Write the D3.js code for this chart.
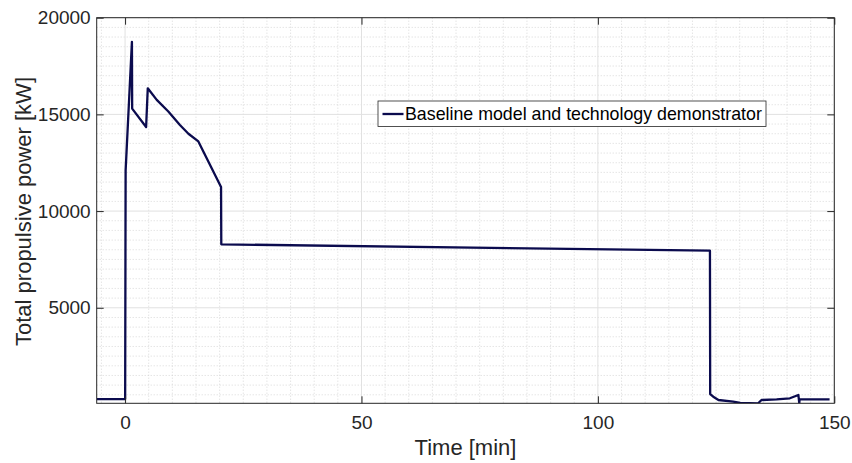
<!DOCTYPE html>
<html>
<head>
<meta charset="utf-8">
<script src="https://cdn.jsdelivr.net/npm/d3@7"></script>
<style>
  html, body { margin: 0; padding: 0; background: #fff; }
  svg { display: block; font-family: "Liberation Sans", Arial, Helvetica, sans-serif; }
</style>
</head>
<body>
<svg id="chart" width="852" height="463"></svg>
<script>
// Propulsive power profile over one voyage
const timeMin = [-6, 0.02, 0.12, 1.45, 1.5, 4.45, 4.8, 6.7, 9.15, 11.6, 13.4, 15.5, 20.3, 20.35,
                 123.7, 123.75, 124.4, 125.5, 128.6, 130.1, 133.9, 134.6, 137.8, 140.6, 142.4, 142.6, 142.65, 149];
const powerKW = [280, 280, 12100, 18750, 15300, 14350, 16350, 15750, 15150, 14450, 14000, 13600, 11250, 8280,
                 7950, 540, 400, 230, 145, 80, 60, 230, 265, 320, 490, 60, 265, 265];

const seriesName = "Baseline model and technology demonstrator";
const xTicks = [0, 50, 100, 150];
const yTicks = [5000, 10000, 15000, 20000];
const xLabel = "Time [min]";
const yLabel = "Total propulsive power [kW]";

const W = 852, H = 463;
const plot = { left: 96.7, top: 17.7, right: 834.3, bottom: 403.3 };
const axisColor = "#262626";
const lineColor = "#0b0b4e";

const svg = d3.select("#chart");

const x = d3.scaleLinear().domain([-6, 150]).range([plot.left, plot.right]);
const y = d3.scaleLinear().domain([60, 20000]).range([plot.bottom, plot.top]);

// minor grid (dotted)
const xMinor = d3.range(-5, 150, 5).filter(v => !xTicks.includes(v));
const yMinor = d3.range(500, 20000, 500).filter(v => !yTicks.includes(v));
const grid = svg.append("g");
grid.selectAll(".xm").data(xMinor).join("line")
  .attr("x1", d => x(d)).attr("x2", d => x(d))
  .attr("y1", plot.top).attr("y2", plot.bottom)
  .attr("stroke", "#cfcfcf").attr("stroke-width", 0.8).attr("stroke-dasharray", "1,2");
grid.selectAll(".ym").data(yMinor).join("line")
  .attr("x1", plot.left).attr("x2", plot.right)
  .attr("y1", d => y(d)).attr("y2", d => y(d))
  .attr("stroke", "#cfcfcf").attr("stroke-width", 0.8).attr("stroke-dasharray", "1,2");

// major grid (solid, light)
grid.selectAll(".xM").data(xTicks).join("line")
  .attr("x1", d => x(d)).attr("x2", d => x(d))
  .attr("y1", plot.top).attr("y2", plot.bottom)
  .attr("stroke", "#e1e1e1").attr("stroke-width", 1);
grid.selectAll(".yM").data(yTicks).join("line")
  .attr("x1", plot.left).attr("x2", plot.right)
  .attr("y1", d => y(d)).attr("y2", d => y(d))
  .attr("stroke", "#e1e1e1").attr("stroke-width", 1);

// data line
svg.append("clipPath").attr("id", "clip").append("rect")
  .attr("x", plot.left).attr("y", plot.top)
  .attr("width", plot.right - plot.left).attr("height", plot.bottom - plot.top);

const pts = timeMin.map((t, i) => [t, powerKW[i]]);
svg.append("path")
  .datum(pts)
  .attr("clip-path", "url(#clip)")
  .attr("fill", "none")
  .attr("stroke", lineColor)
  .attr("stroke-width", 2.3)
  .attr("stroke-linejoin", "round")
  .attr("d", d3.line().x(d => x(d[0])).y(d => y(d[1])));

// axes with inward ticks on all four sides
const tickLen = 7;
const axB = d3.axisBottom(x).tickValues(xTicks).tickSize(-tickLen).tickPadding(12).tickFormat(d3.format("d"));
const axT = d3.axisTop(x).tickValues(xTicks).tickSize(-tickLen).tickFormat("");
const axL = d3.axisLeft(y).tickValues(yTicks).tickSize(-tickLen).tickPadding(6).tickFormat(d3.format("d"));
const axR = d3.axisRight(y).tickValues(yTicks).tickSize(-tickLen).tickFormat("");

function styleAxis(g) {
  g.select(".domain").remove();
  g.selectAll(".tick line").attr("stroke", axisColor).attr("stroke-width", 1);
  g.selectAll(".tick text").attr("fill", axisColor).style("font-size", "19px")
    .style("font-family", "'Liberation Sans', Arial, sans-serif");
}
svg.append("g").attr("transform", `translate(0,${plot.bottom})`).call(axB).call(styleAxis);
svg.append("g").attr("transform", `translate(0,${plot.top})`).call(axT).call(styleAxis);
svg.append("g").attr("transform", `translate(${plot.left},0)`).call(axL).call(styleAxis);
svg.append("g").attr("transform", `translate(${plot.right},0)`).call(axR).call(styleAxis);

// frame
svg.append("rect")
  .attr("x", plot.left).attr("y", plot.top)
  .attr("width", plot.right - plot.left).attr("height", plot.bottom - plot.top)
  .attr("fill", "none").attr("stroke", axisColor).attr("stroke-width", 1);

// axis labels
svg.append("text")
  .attr("x", (plot.left + plot.right) / 2).attr("y", 455)
  .attr("text-anchor", "middle").attr("fill", axisColor)
  .style("font-size", "22px").text(xLabel);
svg.append("text")
  .attr("transform", `translate(31,${(plot.top + plot.bottom) / 2 + 1}) rotate(-90)`)
  .attr("text-anchor", "middle").attr("fill", axisColor)
  .style("font-size", "22px").text(yLabel);

// legend
const lg = svg.append("g");
lg.append("rect")
  .attr("x", 378).attr("y", 101).attr("width", 388).attr("height", 25.5)
  .attr("fill", "#fff").attr("stroke", axisColor).attr("stroke-width", 0.8);
lg.append("line")
  .attr("x1", 382.5).attr("x2", 403.5).attr("y1", 114).attr("y2", 114)
  .attr("stroke", lineColor).attr("stroke-width", 2.3);
lg.append("text")
  .attr("x", 405).attr("y", 114).attr("dy", "0.35em")
  .attr("fill", "#000")
  .style("font-size", "17.8px").text(seriesName);
</script>
</body>
</html>
